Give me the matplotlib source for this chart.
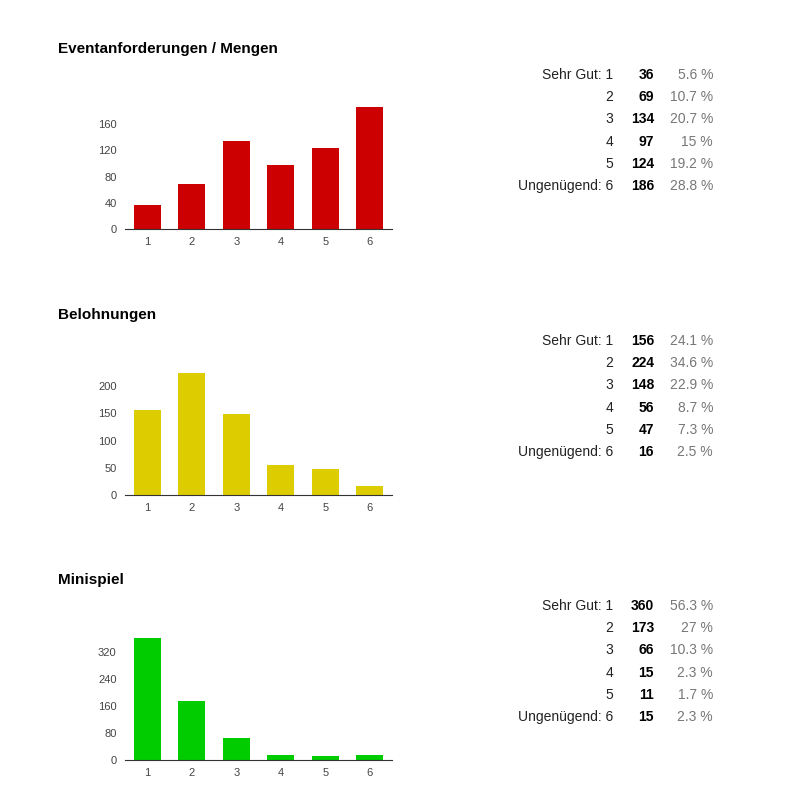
import matplotlib
matplotlib.use("Agg")
import matplotlib.pyplot as plt

plt.rcParams["font.family"] = "Liberation Sans"

titles = ["Eventanforderungen / Mengen", "Belohnungen", "Minispiel"]
categories = [1, 2, 3, 4, 5, 6]
values_event = [36, 69, 134, 97, 124, 186]
values_belohn = [156, 224, 148, 56, 47, 16]
values_mini = [360, 173, 66, 15, 11, 15]
pct_event = ["5.6 %", "10.7 %", "20.7 %", "15 %", "19.2 %", "28.8 %"]
pct_belohn = ["24.1 %", "34.6 %", "22.9 %", "8.7 %", "7.3 %", "2.5 %"]
pct_mini = ["56.3 %", "27 %", "10.3 %", "2.3 %", "1.7 %", "2.3 %"]
yticks_event = [0, 40, 80, 120, 160]
yticks_belohn = [0, 50, 100, 150, 200]
yticks_mini = [0, 80, 160, 240, 320]
row_labels = ["Sehr Gut: 1", "2", "3", "4", "5", "Ungenügend: 6"]
colors = ["#cc0000", "#ddcc00", "#00cc00"]

W, H = 792, 799
fig = plt.figure(figsize=(W / 100, H / 100), dpi=100)

sections = [
    (values_event, pct_event, yticks_event, 0),
    (values_belohn, pct_belohn, yticks_belohn, 266),
    (values_mini, pct_mini, yticks_mini, 531),
]

for i, (vals, pcts, yt, off) in enumerate(sections):
    base = 229 + off
    top = base - 131
    ax = fig.add_axes([125 / W, 1 - base / H, (392 - 125) / W, 131 / H])
    ax.bar(categories, vals, width=0.6, color=colors[i])
    ax.set_xlim(0.5, 6.5)
    ax.set_ylim(0, max(vals) * 131 / 122)
    ax.set_yticks(yt)
    ax.set_xticks(categories)
    for s in ["top", "right", "left"]:
        ax.spines[s].set_visible(False)
    ax.spines["bottom"].set_color("#333333")
    ax.tick_params(length=0, labelsize=8, colors="#444444", pad=6)
    fig.text(58 / W, 1 - (49 + off) / H, titles[i], fontsize=11, fontweight="bold",
             va="center", ha="left")
    for r in range(6):
        y = 1 - (75 + off + 22.2 * r) / H
        fig.text(613 / W, y, row_labels[r], fontsize=10, ha="right", va="center", color="#222222")
        fig.text(654 / W, y, str(vals[r]), fontsize=10, ha="right", va="center",
                 fontweight="bold", color="#000000")
        fig.text(713 / W, y, pcts[r], fontsize=10, ha="right", va="center", color="#777777")

fig.savefig("out.png", dpi=100, facecolor="white")
